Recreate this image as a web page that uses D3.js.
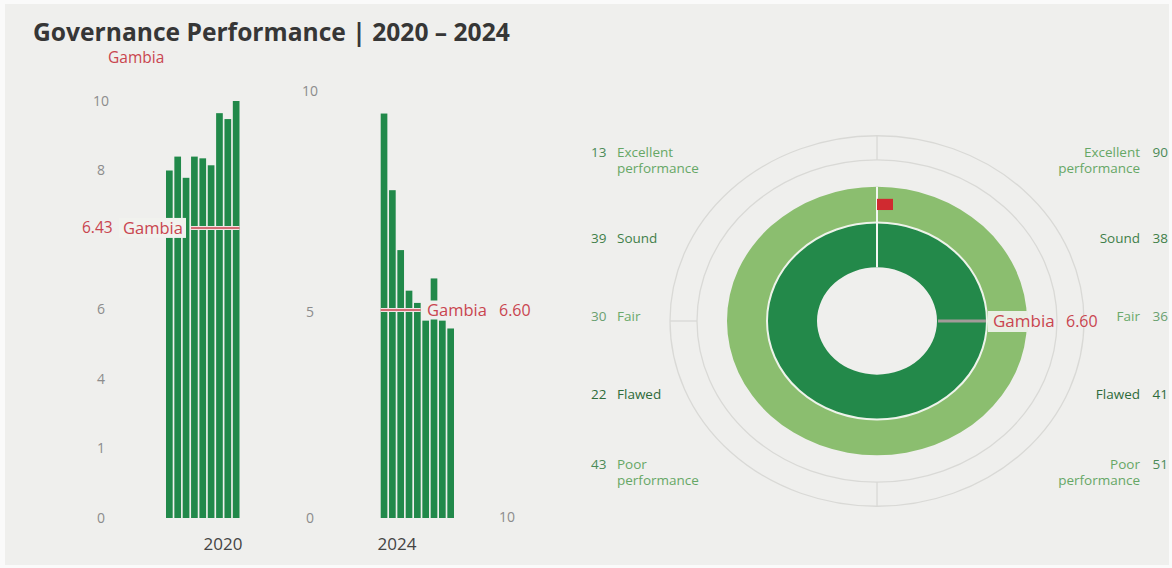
<!DOCTYPE html>
<html>
<head>
<meta charset="utf-8">
<script src="https://cdn.jsdelivr.net/npm/d3@7"></script>
<style>
  html, body { margin: 0; padding: 0; background: #fafafa; }
  svg { display: block; font-family: "Open Sans", "Noto Sans", sans-serif; }
</style>
</head>
<body>
<svg id="chart" width="1172" height="568"></svg>
<script>
// ---------- data ----------
const country = "Gambia";
const years = ["2020", "2024"];

// country scores, one bar per country in the comparison group
const scores2020 = [8.0, 8.4, 7.8, 8.4, 8.35, 8.15, 9.65, 9.48, 10.0];
const scores2024 = [9.65, 8.46, 7.53, 6.90, 6.71, 4.79, 7.09, 4.79, 4.60];

// Gambia reference scores
const gambia2020 = 6.43;
const gambia2024 = 6.60;

// axis ticks and scale break points
const ticks2020 = [0, 1, 4, 6, 8, 10];
const stops2020 = [0, 1, 4, 6, 6.1, 8, 10];
const ticks2024 = [0, 5, 10];
const stops2024 = [0, 5, 6.6, 10];

// governance categories and number of countries in each
const categories = ["Excellent performance", "Sound", "Fair", "Flawed", "Poor performance"];
const counts2020 = [13, 39, 30, 22, 43];
const counts2024 = [90, 38, 36, 41, 51];

// ---------- styling ----------
const W = 1172, H = 568;
const BAR = "#21894a";
const RED = "#c9454f";
const TICK = "#8c8c8c";
const labelTone = ["#66a766", "#3f7f49", "#6aa96a", "#2e6b3a", "#66a766"];
const numberTone = ["#4b8a57", "#3f7f49", "#6aa070", "#2e6b3a", "#4b8a57"];

const svg = d3.select("#chart");

// panel
svg.append("rect").attr("x", 0).attr("y", 0).attr("width", W).attr("height", H).attr("fill", "#fafafa");
svg.append("rect").attr("x", 5).attr("y", 4).attr("width", W - 8).attr("height", H - 7).attr("fill", "#efefed");

// title
svg.append("text")
  .attr("x", 33).attr("y", 41)
  .attr("font-size", 24.6).attr("font-weight", 700).attr("fill", "#363636")
  .text("Governance Performance | 2020 \u2013 2024");
svg.append("text")
  .attr("x", 108).attr("y", 63)
  .attr("font-size", 15.5).attr("fill", RED)
  .text(country);

const baseY = 518;

// ---------- 2020 bars ----------
const y20 = d3.scaleLinear()
  .domain(stops2020)
  .range(stops2020.map((d, i) => baseY - i * (baseY - 101) / (stops2020.length - 1)));
const x20 = d3.scaleBand().domain(d3.range(scores2020.length)).range([166, 239.5]).paddingInner(0.2);

const ax20 = svg.append("g").attr("transform", "translate(101,0)")
  .call(d3.axisLeft(y20).tickValues(ticks2020).tickSize(0).tickFormat(d3.format("d")));
ax20.select(".domain").remove();
ax20.selectAll("text").attr("x", 0).attr("text-anchor", "middle")
  .attr("font-size", 14).attr("fill", TICK).attr("font-family", "Open Sans, sans-serif");

svg.append("g").selectAll("rect").data(scores2020).join("rect")
  .attr("x", (d, i) => x20(i)).attr("width", x20.bandwidth())
  .attr("y", d => y20(d)).attr("height", d => baseY - y20(d))
  .attr("fill", BAR);

// Gambia 2020 marker
{
  const gy = y20(gambia2020);
  svg.append("rect").attr("x", 119).attr("y", gy - 10).attr("width", 67).attr("height", 20)
    .attr("fill", "#f1f2ee");
  svg.append("line").attr("x1", x20(3)).attr("x2", x20(scores2020.length - 1) + x20.bandwidth())
    .attr("y1", gy).attr("y2", gy).attr("stroke", "#f3e4e4").attr("stroke-width", 4);
  svg.append("line").attr("x1", x20(3)).attr("x2", x20(scores2020.length - 1) + x20.bandwidth())
    .attr("y1", gy).attr("y2", gy).attr("stroke", RED).attr("stroke-width", 1.6);
  svg.append("text").attr("x", 82).attr("y", gy).attr("dy", "0.35em")
    .attr("font-size", 15.5).attr("fill", RED).text(d3.format(".2f")(gambia2020));
  svg.append("text").attr("x", 123).attr("y", gy).attr("dy", "0.35em")
    .attr("font-size", 16.5).attr("fill", RED).text(country);
}

svg.append("text").attr("x", 223).attr("y", 550).attr("text-anchor", "middle")
  .attr("font-size", 17).attr("fill", "#444").text(years[0]);

// ---------- 2024 bars ----------
const y24 = d3.scaleLinear().domain(stops2024).range([baseY, 312, 310, 91]);
const x24 = d3.scaleBand().domain(d3.range(scores2024.length)).range([380.7, 454]).paddingInner(0.2);

const ax24 = svg.append("g").attr("transform", "translate(310,0)")
  .call(d3.axisLeft(y24).tickValues(ticks2024).tickSize(0).tickFormat(d3.format("d")));
ax24.select(".domain").remove();
ax24.selectAll("text").attr("x", 0).attr("text-anchor", "middle")
  .attr("font-size", 14).attr("fill", TICK).attr("font-family", "Open Sans, sans-serif");

svg.append("text").attr("x", 507).attr("y", y24(0)).attr("dy", "0.32em").attr("text-anchor", "middle")
  .attr("font-size", 14).attr("fill", TICK).text(d3.max(ticks2024));

svg.append("g").selectAll("rect").data(scores2024).join("rect")
  .attr("x", (d, i) => x24(i)).attr("width", x24.bandwidth())
  .attr("y", d => y24(d)).attr("height", d => baseY - y24(d))
  .attr("fill", BAR);

// Gambia 2024 marker
{
  const gy = y24(gambia2024);
  svg.append("rect").attr("x", 421).attr("y", gy - 9.5).attr("width", 114).attr("height", 19)
    .attr("fill", "#efefed");
  const x1 = x24(0), x2 = x24(4) + x24.bandwidth();
  svg.append("line").attr("x1", x1).attr("x2", x2).attr("y1", gy).attr("y2", gy)
    .attr("stroke", "#f3e4e4").attr("stroke-width", 4);
  svg.append("line").attr("x1", x1).attr("x2", x2).attr("y1", gy).attr("y2", gy)
    .attr("stroke", RED).attr("stroke-width", 1.6);
  svg.append("text").attr("x", 427).attr("y", gy).attr("dy", "0.35em")
    .attr("font-size", 16.5).attr("fill", RED).text(country);
  svg.append("text").attr("x", 499).attr("y", gy).attr("dy", "0.35em")
    .attr("font-size", 16).attr("fill", RED).text(d3.format(".2f")(gambia2024));
}

svg.append("text").attr("x", 397).attr("y", 550).attr("text-anchor", "middle")
  .attr("font-size", 17).attr("fill", "#444").text(years[1]);

// ---------- rings ----------
const cx = 877, cy = 321, squash = 0.895;
const ring = svg.append("g").attr("transform", `translate(${cx},${cy}) scale(1,${squash})`);
const full = d3.arc().startAngle(0).endAngle(2 * Math.PI);

// guide circles
[180, 207].forEach(r => ring.append("circle").attr("r", r).attr("fill", "none")
  .attr("stroke", "#d9d9d6").attr("stroke-width", 1.3).attr("vector-effect", "non-scaling-stroke"));
// quarter ticks between guide circles (top, bottom, left)
[0, Math.PI, 1.5 * Math.PI].forEach(a => ring.append("line")
  .attr("x1", 180 * Math.sin(a)).attr("y1", -180 * Math.cos(a))
  .attr("x2", 207 * Math.sin(a)).attr("y2", -207 * Math.cos(a))
  .attr("stroke", "#d9d9d6").attr("stroke-width", 1.3).attr("vector-effect", "non-scaling-stroke"));

// outer ring (2020), inner ring (2024)
ring.append("path").attr("d", full({ innerRadius: 110, outerRadius: 150 })).attr("fill", "#8bbe6f");
ring.append("path").attr("d", full({ innerRadius: 60, outerRadius: 110 })).attr("fill", "#23894a");
ring.append("circle").attr("r", 110).attr("fill", "none").attr("stroke", "#eef3ea")
  .attr("stroke-width", 2).attr("vector-effect", "non-scaling-stroke");
ring.append("line").attr("x1", 0).attr("y1", -60).attr("x2", 0).attr("y2", -150)
  .attr("stroke", "#f4f6f2").attr("stroke-width", 2).attr("vector-effect", "non-scaling-stroke");

// red marker on outer ring
ring.append("rect").attr("x", 0).attr("y", -136.5).attr("width", 16).attr("height", 12.5).attr("fill", "#d02a30");

// Gambia pointer
ring.append("line").attr("x1", 61).attr("x2", 109).attr("y1", 0).attr("y2", 0)
  .attr("stroke", "#a39b99").attr("stroke-width", 3).attr("vector-effect", "non-scaling-stroke");

svg.append("rect").attr("x", 988).attr("y", cy - 10).attr("width", 40).attr("height", 21)
  .attr("fill", "#e9efe4");
svg.append("text").attr("x", 993).attr("y", cy).attr("dy", "0.35em")
  .attr("font-size", 17).attr("fill", RED).text(country);
svg.append("text").attr("x", 1066).attr("y", cy).attr("dy", "0.35em")
  .attr("font-size", 16).attr("fill", RED).text(d3.format(".2f")(gambia2024));

// ---------- category labels ----------
const rowY = d3.scalePoint().domain(categories).range([160, 472]);
const lineH = 16;

function labelLines(c) { return c.split(" "); }

// 2020 counts (left)
const left = svg.append("g").selectAll("g").data(categories).join("g")
  .attr("transform", c => `translate(0,${rowY(c)})`);
left.each(function (c, i) {
  const g = d3.select(this);
  const lines = labelLines(c);
  const y0 = -(lines.length - 1) * lineH / 2;
  g.append("text").attr("x", 591).attr("y", y0).attr("dy", "0.35em")
    .attr("font-size", 13.5).attr("fill", numberTone[i]).text(counts2020[i]);
  lines.forEach((t, k) => g.append("text").attr("x", 617).attr("y", y0 + k * lineH).attr("dy", "0.35em")
    .attr("font-size", 13.5).attr("fill", labelTone[i]).text(t));
});

// 2024 counts (right)
const right = svg.append("g").selectAll("g").data(categories).join("g")
  .attr("transform", c => `translate(0,${rowY(c)})`);
right.each(function (c, i) {
  const g = d3.select(this);
  const lines = labelLines(c);
  const y0 = -(lines.length - 1) * lineH / 2;
  g.append("text").attr("x", 1168).attr("y", y0).attr("dy", "0.35em").attr("text-anchor", "end")
    .attr("font-size", 13.5).attr("fill", numberTone[i]).text(counts2024[i]);
  lines.forEach((t, k) => g.append("text").attr("x", 1140).attr("y", y0 + k * lineH).attr("dy", "0.35em")
    .attr("text-anchor", "end").attr("font-size", 13.5).attr("fill", labelTone[i]).text(t));
});
</script>
</body>
</html>
